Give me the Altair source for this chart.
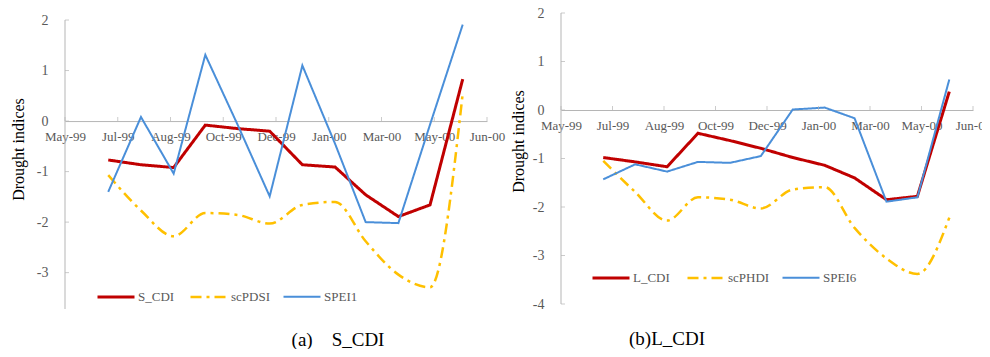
import altair as alt
import pandas as pd

START = "1999-05-20"
months = ["1999-06-30", "1999-07-31", "1999-08-31", "1999-09-30", "1999-10-31", "1999-11-30",
          "1999-12-31", "2000-01-31", "2000-02-29", "2000-03-31", "2000-04-30", "2000-05-31"]

# panel (a)
series_a = ["S_CDI", "scPDSI", "SPEI1"]
s_cdi = [-0.77, -0.865, -0.92, -0.08, -0.15, -0.2, -0.865, -0.91, -1.46, -1.89, -1.66, 0.83]
sc_pdsi = [-1.07, -1.77, -2.28, -1.82, -1.86, -2.03, -1.66, -1.6, -2.38, -3.04, -3.29, 0.55]
spei1 = [-1.40, 0.08, -1.04, 1.31, -0.09, -1.49, 1.10, -0.45, -2.00, -2.02, -0.07, 1.91]

# panel (b)
series_b = ["L_CDI", "scPHDI", "SPEI6"]
l_cdi = [-0.98, -1.07, -1.17, -0.48, -0.63, -0.79, -0.98, -1.14, -1.40, -1.85, -1.78, 0.38]
sc_phdi = [-1.05, -1.69, -2.28, -1.80, -1.85, -2.03, -1.64, -1.59, -2.43, -3.06, -3.38, -2.22]
spei6 = [-1.43, -1.12, -1.27, -1.07, -1.09, -0.95, 0.01, 0.05, -0.17, -1.89, -1.80, 0.63]

x_tick_days = [0, 50, 100, 150, 200, 250, 300, 350, 400]
x_tick_labels = ["May-99", "Jul-99", "Aug-99", "Oct-99", "Dec-99", "Jan-00", "Mar-00", "May-00", "Jun-00"]
yticks_a = [-3, -2, -1, 0, 1, 2]
yticks_b = [-4, -3, -2, -1, 0, 1, 2]

colors = ["#C00000", "#FFC000", "#4A8FD9"]
dashes = [[1, 0], [11, 5, 3, 5], [1, 0]]
widths = [3, 2, 2]

FONT = "Liberation Serif"
GRAY = "#B5B5B5"
LABEL = "#595959"

label_expr = "[" + ",".join("'" + s + "'" for s in x_tick_labels) + "][round(datum.value / 50)]"


def panel(series, values, ymin, ymax, axis_top, axis_bottom, yticks, W, H, lx, ly,
          caption, cap_dx, cap_offset, tx, ty):
    rows = []
    for name, vals in zip(series, values):
        for d, v in zip(months, vals):
            rows.append({"day": (pd.Timestamp(d) - pd.Timestamp(START)).days,
                         "value": v, "series": name})
    df = pd.DataFrame(rows)
    xs = alt.Scale(domain=[0, 400], nice=False, zero=False)
    ys = alt.Scale(domain=[ymin, ymax], nice=False, zero=False)
    zero_pos = H * ymax / (ymax - ymin)

    xaxis = alt.Axis(values=x_tick_days, labelExpr=label_expr, offset=-(H - zero_pos),
                     domainColor=GRAY, domainWidth=1, ticks=False, grid=False,
                     labelFont=FONT, labelFontSize=13, labelColor=LABEL,
                     labelPadding=9, labelFlush=False, labelOverlap=False, title=None)
    yaxis = alt.Axis(values=yticks, domain=False, ticks=False, grid=False,
                     labelExpr="'' + datum.value",
                     labelFont=FONT, labelFontSize=14, labelColor=LABEL, labelPadding=17,
                     title="Drought indices", titleFont=FONT, titleFontSize=16,
                     titleFontWeight="normal", titleColor="black",
                     titleX=tx, titleY=ty, titleBaseline="middle", titleAngle=270)
    legend = alt.Legend(orient="none", legendX=lx, legendY=ly, direction="horizontal",
                        columns=3, gridAlign="all", title=None, symbolType="stroke",
                        symbolSize=1369, labelFont=FONT, labelFontSize=13, labelColor=LABEL,
                        labelOffset=2, columnPadding=7, padding=0)
    enc = dict(
        x=alt.X("day:Q", scale=xs, axis=xaxis),
        y=alt.Y("value:Q", scale=ys, axis=yaxis),
        color=alt.Color("series:N", scale=alt.Scale(domain=series, range=colors), legend=legend),
        strokeDash=alt.StrokeDash("series:N", scale=alt.Scale(domain=series, range=dashes), legend=legend),
        strokeWidth=alt.StrokeWidth("series:N", scale=alt.Scale(domain=series, range=widths), legend=legend),
    )
    base = alt.Chart(df)
    l_red = base.transform_filter(alt.datum.series == series[0]).mark_line(
        interpolate="linear").encode(**enc)
    l_yel = base.transform_filter(alt.datum.series == series[1]).mark_line(
        interpolate="monotone").encode(**enc)
    l_blue = base.transform_filter(alt.datum.series == series[2]).mark_line(
        interpolate="linear").encode(**enc)

    xt = alt.Chart(pd.DataFrame({"day": x_tick_days, "value": [0] * len(x_tick_days)})).mark_tick(
        orient="vertical", size=4, thickness=1, color=GRAY, yOffset=-2).encode(
        x=alt.X("day:Q", scale=xs, axis=xaxis), y=alt.Y("value:Q", scale=ys, axis=yaxis))
    yt = alt.Chart(pd.DataFrame({"value": yticks, "day": [0] * len(yticks)})).mark_tick(
        orient="horizontal", size=4, thickness=1, color=GRAY, xOffset=2).encode(
        y=alt.Y("value:Q", scale=ys, axis=yaxis), x=alt.X("day:Q", scale=xs, axis=xaxis))
    yl = alt.Chart(pd.DataFrame({"value": [axis_top], "b": [axis_bottom], "day": [0]})).mark_rule(
        color=GRAY, strokeWidth=1).encode(
        x=alt.X("day:Q", scale=xs, axis=xaxis), y=alt.Y("value:Q", scale=ys, axis=yaxis), y2="b:Q")

    return alt.layer(l_yel, l_red, l_blue, yl, xt, yt).properties(
        width=W, height=H,
        title=alt.TitleParams(text=caption, orient="bottom", anchor="middle", frame="group",
                              dx=cap_dx, offset=cap_offset, font=FONT, fontSize=19,
                              fontWeight="normal", color="black"))


pa = panel(series_a, [s_cdi, sc_pdsi, spei1], -3.72, 2.139, 2, -3.72, yticks_a, 422, 296,
           31, 264, "(a)\u00a0\u00a0\u00a0\u00a0S_CDI", 62, 21, -47, 136)
pb = panel(series_b, [l_cdi, sc_phdi, spei6], -4, 2, 2, -4, yticks_b, 412, 291,
           30, 245, "(b)L_CDI", -100, 19, -43, 128)

chart = alt.hconcat(pa, pb, spacing=74, bounds="flush").resolve_scale(
    color="independent", strokeDash="independent", strokeWidth="independent").properties(
    autosize=alt.AutoSizeParams(type="none"),
    padding={"left": 57, "top": 5, "right": 917, "bottom": 336}).configure_view(stroke=None)

chart.save("out.html", embed_options={"renderer": "svg", "actions": False})
